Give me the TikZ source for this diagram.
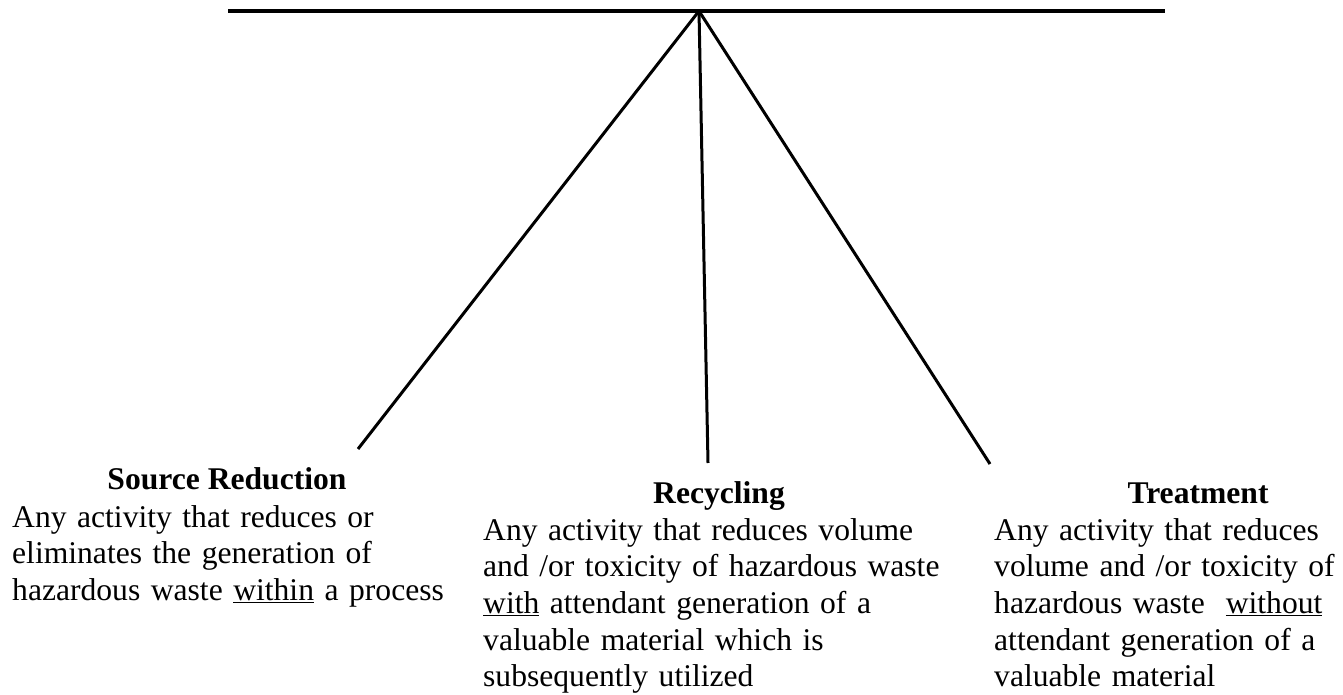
\documentclass[tikz,border=0pt]{standalone}
\usepackage{fontspec}
\setmainfont{Liberation Serif}
\usetikzlibrary{positioning}

\begin{document}
\begin{tikzpicture}[x=1pt,y=-1pt,
    bar/.style={line width=3.4pt},
    leg/.style={line width=3pt},
    head/.style={anchor=base,inner sep=0pt,font=\fontsize{31.6}{36.7}\selectfont\bfseries},
    desc/.style={anchor=base west,inner sep=0pt,align=left,font=\fontsize{31.6}{36.7}\selectfont}]
  \useasboundingbox (0,0) rectangle (1343,695);
  % top bar and the point the legs hang from
  \coordinate (barL) at (228,11);
  \coordinate (barR) at (1165,11);
  \coordinate (apex) at (699,11);
  \coordinate (srcEnd) at (358,449);
  \coordinate (recEnd) at (708,463);
  \coordinate (trtEnd) at (990,464);
  \draw[bar] (barL) -- (barR);
  \draw[leg] (apex) -- (srcEnd);
  \draw[leg] (apex) -- (recEnd);
  \draw[leg] (apex) -- (trtEnd);
  % headings
  \node[head] (srcHead) at (227,489) {Source Reduction};
  \node[head] (recHead) at (719,503) {Recycling};
  \node[head] (trtHead) at (1198,503) {Treatment};
  % descriptions
  \node[desc,text width=440pt] (srcText) at (12,527)
    {Any activity that reduces or\\eliminates the generation of\\hazardous waste \underline{within} a process};
  \node[desc,text width=460pt] (recText) at (483,540)
    {Any activity that reduces volume\\and /or toxicity of hazardous waste\\\underline{with} attendant generation of a\\valuable material which is\\subsequently utilized};
  \node[desc,text width=345pt] (trtText) at (994,540)
    {Any activity that reduces\\volume and /or toxicity of\\hazardous waste~\ \underline{without}\\attendant generation of a\\valuable material};
\end{tikzpicture}
\end{document}
